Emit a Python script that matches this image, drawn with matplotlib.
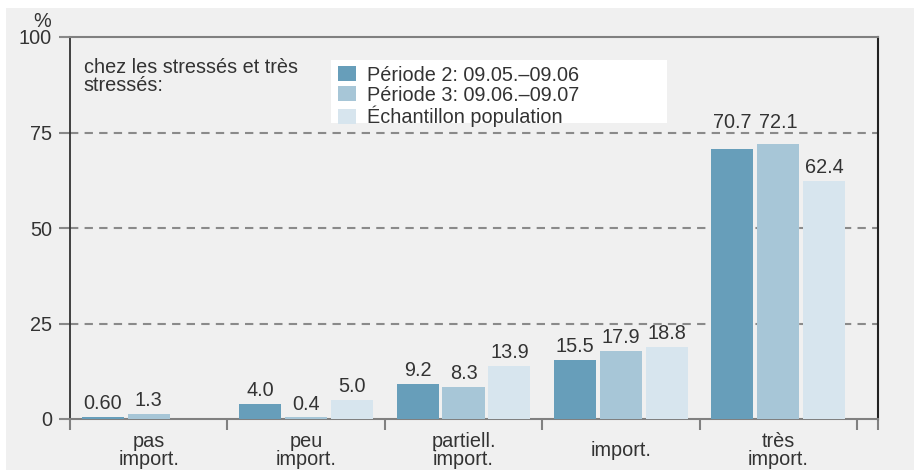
import numpy as np
import matplotlib
matplotlib.use("Agg")
import matplotlib.pyplot as plt
from matplotlib.patches import Rectangle, Patch
from matplotlib.transforms import blended_transform_factory

plt.rcParams['font.family'] = ['Liberation Sans', 'DejaVu Sans']

categories = ["pas\nimport.", "peu\nimport.", "partiell.\nimport.", "import.", "très\nimport."]
series_names = ["Période 2: 09.05.–09.06", "Période 3: 09.06.–09.07", "Échantillon population"]
periode2 = [0.60, 4.0, 9.2, 15.5, 70.7]
periode3 = [1.3, 0.4, 8.3, 17.9, 72.1]
population = [np.nan, 5.0, 13.9, 18.8, 62.4]
labels2 = ["0.60", "4.0", "9.2", "15.5", "70.7"]
labels3 = ["1.3", "0.4", "8.3", "17.9", "72.1"]
labels_pop = ["", "5.0", "13.9", "18.8", "62.4"]
yticks = [0, 25, 50, 75, 100]
gridlines = [25, 50, 75]

colors = ["#679eba", "#a7c6d7", "#d7e5ee"]
txt_color = "#333333"
FS = 14.3

W, H = 917, 470
fig = plt.figure(figsize=(W / 100, H / 100), dpi=100, facecolor="white")
fig.patches.append(Rectangle((6 / W, 0), 908 / W, (H - 8) / H, transform=fig.transFigure,
                             facecolor="#f0f0f0", edgecolor="none", zorder=-10))
ax = fig.add_axes([70 / W, 1 - 419 / H, 808 / W, 382 / H])
ax.set_facecolor("#f0f0f0")

n = len(categories)
centers = np.arange(n) + 0.5
step = 0.292
width = 0.267
data = [periode2, periode3, population]
labs = [labels2, labels3, labels_pop]
label_h = 4.5   # approx. label height in data units
label_off = 1.0
for i, (vals, lb, c) in enumerate(zip(data, labs, colors)):
    xs = centers + (i - 1) * step
    v = np.array(vals, dtype=float)
    ax.bar(xs, np.nan_to_num(v), width=width, color=c, zorder=3)
    for x, val, s in zip(xs, v, lb):
        if np.isnan(val) or s == "":
            continue
        y = val + label_off
        for g in gridlines:
            if y < g < y + label_h:
                y = g + 0.2
        ax.text(x, y, s, ha="center", va="bottom", fontsize=FS, color=txt_color, zorder=4)

xmax = n + 21 / 157.5
ax.set_xlim(0, xmax)
ax.set_ylim(0, 100)

ax.set_yticks(yticks)
ax.set_yticklabels([str(t) for t in yticks], fontsize=FS, color=txt_color)
ax.tick_params(axis="y", direction="out", length=8, width=1.5, color="#888888", pad=5)
for t in gridlines:
    ax.axhline(t, color="#8a8a8a", linewidth=1.5, linestyle=(0, (4, 3)), zorder=1)

ax.set_xticks(list(np.arange(n + 1)) + [xmax])
ax.set_xticklabels([])
ax.tick_params(axis="x", direction="out", length=8, width=1.5, color="#808080")

trans = blended_transform_factory(ax.transData, ax.transAxes)
for x, c in zip(centers, categories):
    ax.text(x, -0.083, c, transform=trans, ha="center", va="center", fontsize=FS,
            color=txt_color, linespacing=0.95)

for side in ["top", "bottom"]:
    ax.spines[side].set_color("#808080")
    ax.spines[side].set_linewidth(1.5)
ax.spines["left"].set_color("#333333")
ax.spines["left"].set_linewidth(1.3)
ax.spines["right"].set_color("#222222")
ax.spines["right"].set_linewidth(1.5)

ax.text(-0.035, 1.015, "%", transform=ax.transAxes, ha="center", va="bottom",
        fontsize=FS, color=txt_color)
ax.text(0.017, 0.945, "chez les stressés et très\nstressés:", transform=ax.transAxes,
        ha="left", va="top", fontsize=FS, color=txt_color, linespacing=0.95)

# white legend panel
ax.add_patch(Rectangle((0.323, 0.775), 0.416, 0.165, transform=ax.transAxes,
                       facecolor="white", edgecolor="none", zorder=5))
handles = [Patch(facecolor=c, edgecolor="none") for c in colors]
leg = ax.legend(handles, series_names, loc="upper left", bbox_to_anchor=(0.332, 0.925),
                fontsize=FS, frameon=False, handlelength=0.9, handleheight=0.8,
                handletextpad=0.55, labelspacing=0.05, borderpad=0, borderaxespad=0)
for t in leg.get_texts():
    t.set_color(txt_color)
leg.set_zorder(6)

fig.savefig("out.png", dpi=100, facecolor="white")
